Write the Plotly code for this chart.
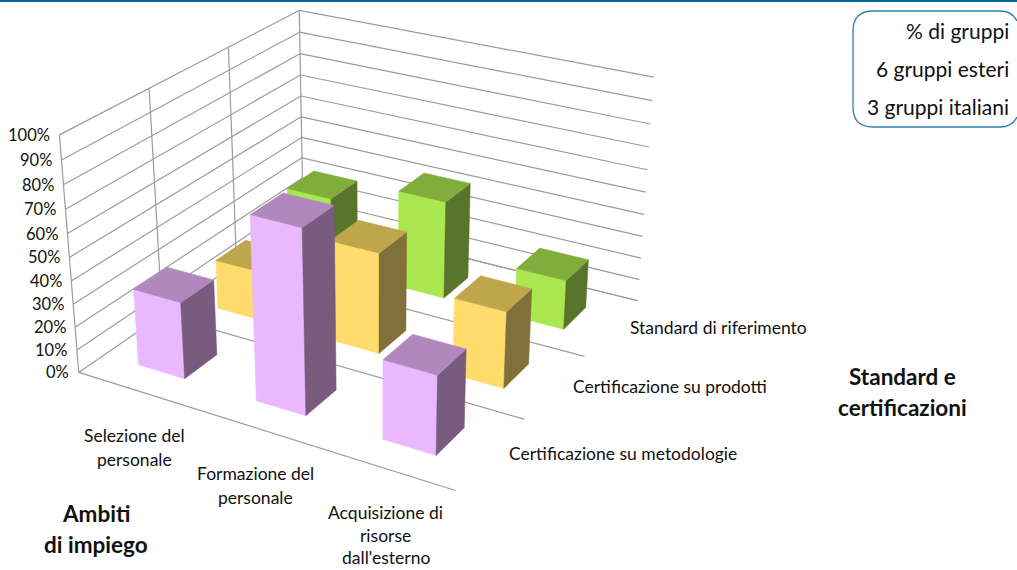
import numpy as np
import plotly.graph_objects as go

# ---- data -------------------------------------------------------------
categories = ["Selezione del\npersonale", "Formazione del\npersonale", "Acquisizione di\nrisorse\ndall'esterno"]
series_names = ["Certificazione su metodologie", "Certificazione su prodotti", "Standard di riferimento"]
metodologie = [33.3, 77.8, 33.3]
prodotti = [22.2, 44.4, 33.3]
riferimento = [33.3, 44.4, 22.2]
series_values = [metodologie, prodotti, riferimento]
value_ticks = [0, 10, 20, 30, 40, 50, 60, 70, 80, 90, 100]
tick_labels = ["0%", "10%", "20%", "30%", "40%", "50%", "60%", "70%", "80%", "90%", "100%"]
category_title = ["Ambiti", "di impiego"]
series_title = ["Standard e", "certificazioni"]
legend_lines = ["% di gruppi", "6 gruppi esteri", "3 gruppi italiani"]

# ---- style ------------------------------------------------------------
FRONT = ["#EAB8FF", "#FFDC6B", "#ABE750"]
TOP = ["#B088BD", "#BFA64D", "#80AD3C"]
SIDE = ["#7A5B80", "#80703A", "#58752B"]
GRID = "#9C9C9C"
TEXT = "#111111"
BLUE = "#006699"
FONT = "Lato, Carlito, sans-serif"

# Oblique 3-D view of the chart box: (category, series, value 0-1) -> page pixels
VIEW = np.array([[109.704702, 93.25441, -22.998916, 78.758388],
                 [22.226381, -38.303617, -245.787261, 372.416649],
                 [-0.03491, 0.060862, -0.061245, 1.0]])


def proj(c, s, v):
    h = VIEW @ np.array([c, s, v / 100.0, 1.0])
    return h[0] / h[2], h[1] / h[2]


fig = go.Figure()


def line3d(a, b):
    p, q = proj(*a), proj(*b)
    fig.add_trace(go.Scatter(x=[p[0], q[0]], y=[p[1], q[1]], mode="lines",
                             line=dict(color=GRID, width=1.2), hoverinfo="skip", showlegend=False))


def face(corners, color):
    pts = [proj(*k) for k in corners]
    fig.add_trace(go.Scatter(x=[p[0] for p in pts] + [pts[0][0]], y=[p[1] for p in pts] + [pts[0][1]],
                             mode="lines", fill="toself", fillcolor=color,
                             line=dict(color=color, width=0.5), hoverinfo="skip", showlegend=False))


nc, ns = len(categories), len(series_names)
for t in value_ticks:
    line3d((0, 0, t), (0, ns, t))
    line3d((0, ns, t), (nc, ns, t))
for j in range(ns + 1):
    line3d((0, j, 0), (0, j, 100))
    line3d((0, j, 0), (nc, j, 0))

GAP = 0.3
for j in reversed(range(ns)):
    for i in range(nc):
        v = series_values[j][i]
        x0, x1, y0, y1 = i + GAP, i + 1 - GAP, j + GAP, j + 1 - GAP
        face([(x0, y0, 0), (x1, y0, 0), (x1, y0, v), (x0, y0, v)], FRONT[j])
        face([(x1, y0, 0), (x1, y1, 0), (x1, y1, v), (x1, y0, v)], SIDE[j])
        face([(x0, y0, v), (x1, y0, v), (x1, y1, v), (x0, y1, v)], TOP[j])

ann = []


def label(x, y, text, size=17.5, anchor="center", bold=False):
    ann.append(dict(x=x, y=y, xref="x", yref="y", text=f"<b>{text}</b>" if bold else text, showarrow=False,
                    xanchor=anchor, yanchor="middle", borderpad=0, font=dict(family=FONT, size=size, color=TEXT)))


for t, lab in zip(value_ticks, tick_labels):
    px, py = proj(0, 0, t)
    label(px - 8.5, py, lab, size=16.5, anchor="right")
for i, cat in enumerate(categories):
    px, py = proj(i + 0.5, 0, 0)
    parts = cat.split("\n")
    step = 24 if len(parts) == 2 else 22.5
    for k, part in enumerate(parts):
        label(px - 1, py + 45 - (len(parts) == 3) + step * k, part)
for j, name in enumerate(series_names):
    px, py = proj(nc, j + 0.5, 0)
    label(px + 17, py, name, anchor="left")
for k, part in enumerate(category_title):
    label(96, 513 + 31 * k, part, size=22.5, bold=True)
for k, part in enumerate(series_title):
    label(902, 376 + 31 * k, part, size=22.5, bold=True)
for k, part in enumerate(legend_lines):
    label(1010, 30 + 38 * k, part, size=21, anchor="right")

shapes = [
    dict(type="rect", xref="x", yref="y", x0=0, x1=1017, y0=0, y1=2, fillcolor=BLUE, line=dict(width=0), layer="above"),
    dict(type="path", xref="x", yref="y", layer="above",
         path="M 873 11 L 1000 11 Q 1012 11 1017 21 M 1017 117 Q 1012 127 1000 127 L 873 127 Q 853 127 853 107 L 853 31 Q 853 11 873 11",
         line=dict(color="#2E7FAE", width=1.3), fillcolor="rgba(0,0,0,0)"),
]

fig.update_layout(
    width=1017, height=570, margin=dict(l=0, r=0, t=0, b=0),
    paper_bgcolor="white", plot_bgcolor="white", showlegend=False,
    xaxis=dict(range=[0, 1017], visible=False, fixedrange=True),
    yaxis=dict(range=[570, 0], visible=False, fixedrange=True),
    annotations=ann, shapes=shapes,
)
fig.write_html("out.html", config={"displayModeBar": False},
               post_script="document.body.style.margin='0';document.body.style.overflow='hidden';")
